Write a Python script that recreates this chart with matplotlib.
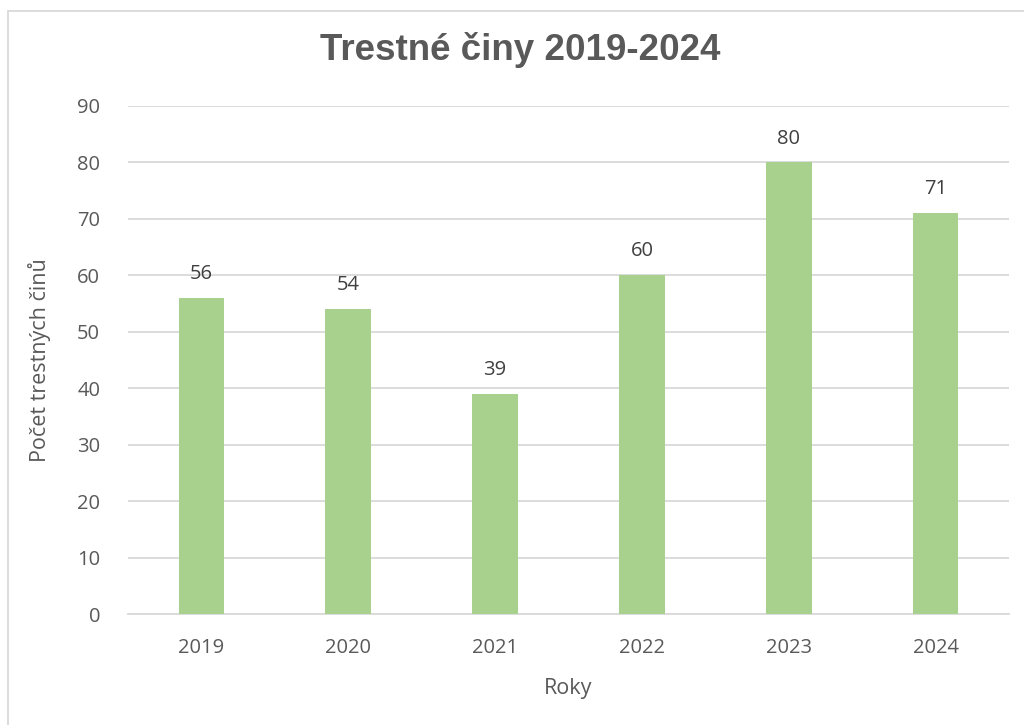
import matplotlib.pyplot as plt
from matplotlib.patches import Rectangle

years = ["2019", "2020", "2021", "2022", "2023", "2024"]
values = [56, 54, 39, 60, 80, 71]
yticks = [0, 10, 20, 30, 40, 50, 60, 70, 80, 90]

plt.rcParams['font.family'] = ['Open Sans', 'DejaVu Sans']
txt = '#595959'

fig = plt.figure(figsize=(10.24, 7.25), dpi=100)
fig.patches.append(Rectangle((8/1024, -0.1), 1.2, 1 - 11/725 + 0.1, transform=fig.transFigure,
                             fill=False, edgecolor='#D9D9D9', linewidth=1.3))
ax = fig.add_axes([128/1024, 1 - 614/725, (1009 - 128)/1024, (614 - 106)/725])

x = list(range(len(years)))
bars = ax.bar(x, values, width=0.31, color='#A9D18E', zorder=3)
for xi, v in zip(x, values):
    ax.annotate(str(v), (xi, v), xytext=(0, 10), textcoords='offset points',
                ha='center', va='bottom', fontsize=14.5, color='#404040')

ax.set_xlim(-0.5, len(years) - 0.5)
ax.set_ylim(0, 90)
ax.set_yticks(yticks)
ax.set_xticks(x)
ax.set_xticklabels(years)
ax.grid(axis='y', color='#D9D9D9', linewidth=1.3, zorder=0)
for s in ['top', 'right', 'left']:
    ax.spines[s].set_visible(False)
ax.spines['bottom'].set_color('#D9D9D9')
ax.spines['bottom'].set_linewidth(1.3)
ax.tick_params(axis='both', length=0, labelsize=14.5, colors=txt)
ax.tick_params(axis='y', pad=20)
ax.tick_params(axis='x', pad=17)

ax.set_xlabel('Roky', fontsize=15.5, color=txt, labelpad=15)
ax.set_ylabel('Počet trestných činů', fontsize=15.5, color=txt, labelpad=19)
fig.text(0.508, 1 - 50/725, 'Trestné činy 2019-2024', ha='center', va='center',
         fontsize=26.5, fontweight='bold', color=txt, family=['Liberation Sans', 'DejaVu Sans'])

fig.savefig('out.png', dpi=100)
